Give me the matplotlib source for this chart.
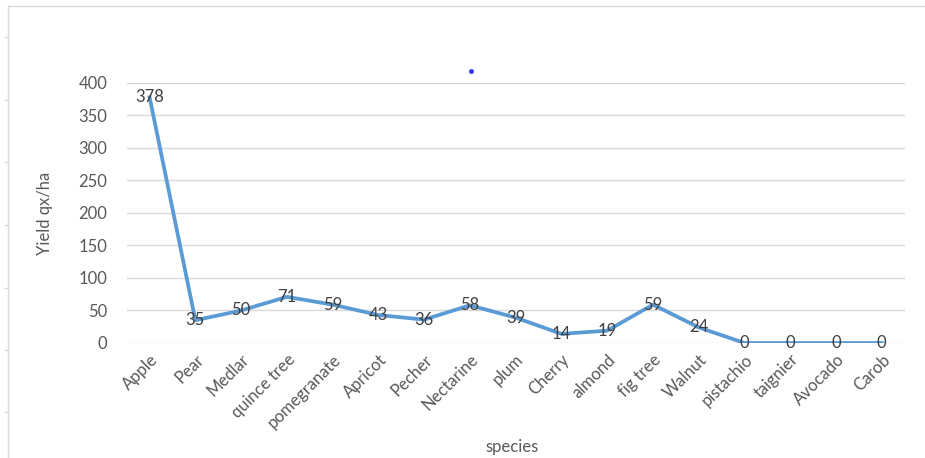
import matplotlib
matplotlib.use('Agg')
import matplotlib.pyplot as plt
from matplotlib.lines import Line2D

species = ['Apple', 'Pear', 'Medlar', 'quince tree', 'pomegranate', 'Apricot', 'Pecher',
           'Nectarine', 'plum', 'Cherry', 'almond', 'fig tree', 'Walnut', 'pistachio',
           'taignier', 'Avocado', 'Carob']
yield_qx = [378, 35, 50, 71, 59, 43, 36, 58, 39, 14, 19, 59, 24, 0, 0, 0, 0]
yticks = [0, 50, 100, 150, 200, 250, 300, 350, 400]

plt.rcParams['font.family'] = ['Lato', 'DejaVu Sans']
FS = 12

fig = plt.figure(figsize=(9.25, 4.58), dpi=100)
ax = fig.add_axes([0.137, 0.2511, 0.841, 0.5677])

x = list(range(len(species)))
ax.plot(x, yield_qx, color='#5B9BD5', lw=2.7, solid_joinstyle='round', zorder=3)
for xi, v in zip(x, yield_qx):
    ax.text(xi, v, str(v), ha='center', va='center', fontsize=FS, color='#404040', zorder=4)

ax.set_xlim(-0.5, len(species) - 0.5)
ax.set_ylim(0, 400)
ax.set_yticks(yticks)
ax.set_xticks(x)
ax.set_xticklabels(species, rotation=45, ha='right', va='top', rotation_mode='anchor')
ax.grid(axis='y', color='#D9D9D9', lw=1)
ax.set_axisbelow(True)
for s in ax.spines.values():
    s.set_visible(False)
ax.tick_params(axis='both', length=0, colors='#595959', labelsize=FS)
ax.tick_params(axis='y', pad=14)
ax.tick_params(axis='x', pad=6)

ax.set_ylabel('Yield qx/ha', fontsize=FS, color='#595959')
ax.yaxis.set_label_coords(-0.095, 0.5)
ax.set_xlabel('species', fontsize=FS, color='#595959')
ax.xaxis.set_label_coords(0.495, -0.37)

# chart frame (top and left edges visible in the screenshot)
fig.add_artist(Line2D([8/925, 1], [1 - 6/458, 1 - 6/458], transform=fig.transFigure, color='#D9D9D9', lw=1))
fig.add_artist(Line2D([8/925, 8/925], [0, 1 - 6/458], transform=fig.transFigure, color='#D9D9D9', lw=1))
for yy in [37, 100, 162, 225, 288, 350, 412]:
    fig.add_artist(Line2D([5/925, 8/925], [1 - yy/458, 1 - yy/458], transform=fig.transFigure, color='#D9D9D9', lw=1))
fig.add_artist(Line2D([471/925], [1 - 71/458], transform=fig.transFigure, marker='o', ms=2.5, color='#3333FF', lw=0))

fig.savefig('out.png', dpi=100, facecolor='white')
